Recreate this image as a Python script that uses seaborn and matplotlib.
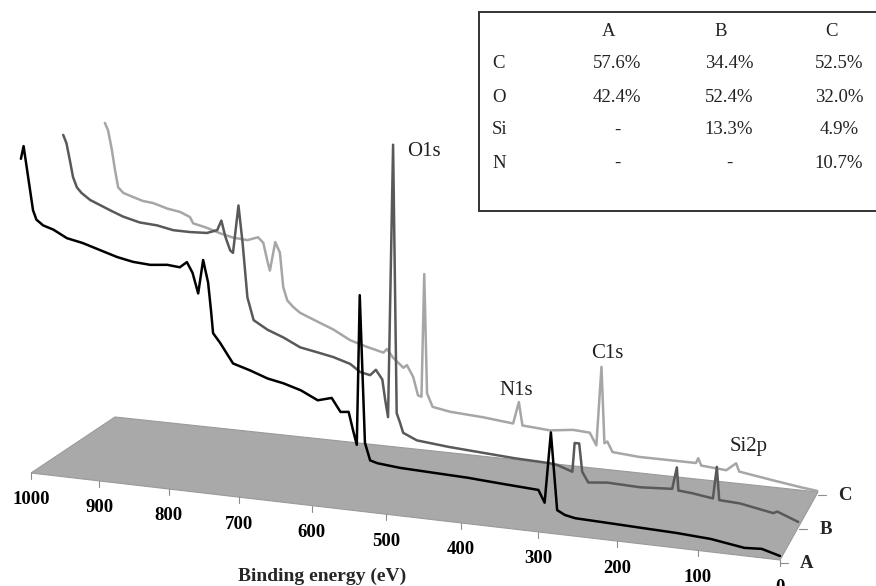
import numpy as np
import pandas as pd
import matplotlib
matplotlib.use("Agg")
import matplotlib.pyplot as plt
from matplotlib.patches import Polygon, Rectangle
import seaborn as sns

# ---------------- data (binding energy in eV, intensity in a.u.) ----------------
A_ev = [1015, 1011, 997, 992, 982, 967, 947, 924, 899, 874, 851, 826, 802, 784, 774, 766, 758, 751, 744, 740,
        737, 727, 709, 685, 661, 639, 615, 592, 573, 561, 550, 544, 539, 535, 528, 521, 511, 481, 437, 392,
        348, 300, 292, 284, 276, 266, 253, 209, 168, 126, 84, 43, 22, 0]
A_int = [313, 326, 263, 254, 249, 246, 239, 236, 231, 226, 223, 222, 224, 223, 229, 219, 199, 233, 211, 184,
         161, 152, 133, 128, 122, 119, 114, 106, 110, 97, 98, 80, 66, 216, 69, 52, 50, 48, 47, 46,
         44, 42, 30, 101, 24, 20, 18, 17, 16, 15, 13, 8, 9, 4]

B_ev = [1015, 1010, 1005, 1000, 994, 987, 974, 959, 944, 924, 899, 873, 849, 824, 799, 784, 778, 772, 765, 761,
        753, 747, 740, 731, 711, 688, 664, 640, 617, 593, 579, 565, 557, 548, 544, 540, 533, 528, 523, 519,
        500, 456, 411, 366, 320, 310, 290, 287, 281, 277, 269, 244, 201, 160, 154, 152, 136, 108, 103, 100,
        74, 32, 27, 1]
B_int = [309, 301, 285, 268, 258, 253, 247, 243, 239, 234, 230, 229, 226, 226, 227, 231, 241, 225, 212, 210,
         258, 221, 167, 145, 137, 131, 123, 120, 117, 112, 105, 103, 109, 100, 80, 63, 336, 68, 58, 49,
         43, 40, 38, 36, 35, 34, 29, 58, 58, 30, 20, 22, 21, 23, 45, 22, 21, 18, 50, 17,
         16, 10, 12, 4]

C_ev = [1016, 1011, 1005, 1000, 995, 987, 972, 956, 940, 918, 898, 883, 878, 857, 837, 817, 795, 779, 771, 764,
        761, 753, 746, 741, 735, 726, 716, 690, 667, 642, 617, 593, 588, 579, 564, 559, 550, 543, 538, 534,
        530, 522, 497, 450, 408, 400, 395, 375, 357, 325, 302, 293, 286, 282, 278, 271, 235, 191, 159, 156,
        152, 119, 106, 102, 59, 23, 1]
C_int = [293, 286, 267, 247, 230, 225, 222, 219, 218, 214, 212, 208, 202, 199, 195, 192, 191, 195, 190, 170,
         163, 192, 182, 148, 135, 129, 124, 117, 111, 102, 97, 93, 97, 89, 80, 83, 72, 54, 53, 176,
         57, 44, 41, 39, 36, 58, 35, 34, 33, 36, 35, 23, 102, 26, 28, 18, 16, 16, 16, 21,
         14, 12, 20, 12, 7, 3, 1]

samples = ["A", "B", "C"]
sample_depth = [0.0, 0.5, 1.0]
energy_ticks = [1000, 900, 800, 700, 600, 500, 400, 300, 200, 100, 0]

table_cols = ["A", "B", "C"]
table_rows = ["C", "O", "Si", "N"]
table_A = ["57.6%", "42.4%", "-", "-"]
table_B = ["34.4%", "52.4%", "13.3%", "-"]
table_C = ["52.5%", "32.0%", "4.9%", "10.7%"]

peak_names = ["O1s", "N1s", "C1s", "Si2p"]
peak_sample = ["B", "C", "C", "C"]
peak_ev = [533, 400, 286, 106]
peak_int = [336, 58, 102, 20]

# ---------------- pseudo-3D projection (layout) ----------------
W, H = 876, 586
FL = np.array([31.0, 473.0])   # front-left  (1000 eV, A)
FR = np.array([780.0, 560.0])  # front-right (0 eV, A)
BL = np.array([115.0, 417.0])  # back-left   (1000 eV, C)
BR = np.array([818.0, 492.0])  # back-right  (0 eV, C)
E_HI, E_LO = 1000.0, 0.0
K = 0.9  # mild perspective along energy axis


def floor_point(ev, depth):
    ev = np.asarray(ev, dtype=float)
    t = (E_HI - ev) / (E_HI - E_LO)
    s = K * t / (1 + t * (K - 1))
    if ev.ndim:
        front = FL[None, :] + s[:, None] * (FR - FL)[None, :]
        back = BL[None, :] + s[:, None] * (BR - BL)[None, :]
    else:
        front = FL + s * (FR - FL)
        back = BL + s * (BR - BL)
    return front + depth * (back - front)


def project(ev, depth, inten):
    p = floor_point(ev, depth)
    inten = np.asarray(inten, dtype=float)
    if p.ndim == 1:
        return p[0], p[1] - inten
    return p[:, 0], p[:, 1] - inten


series_ev = {"A": A_ev, "B": B_ev, "C": C_ev}
series_int = {"A": A_int, "B": B_int, "C": C_int}
depth_of = dict(zip(samples, sample_depth))

frames = []
for smp in samples:
    px, py = project(series_ev[smp], depth_of[smp], series_int[smp])
    frames.append(pd.DataFrame({"px": px, "py": py, "sample": smp}))
df = pd.concat(frames, ignore_index=True)

# ---------------- drawing ----------------
sns.set_theme(style="white")
plt.rcParams["font.family"] = ["Liberation Serif", "DejaVu Serif"]

fig = plt.figure(figsize=(W / 100, H / 100), dpi=100)
ax = fig.add_axes([0, 0, 1, 1])

# floor
corners = [floor_point(E_HI, 0.0), floor_point(E_LO, 0.0), floor_point(E_LO, 1.0), floor_point(E_HI, 1.0)]
ax.add_patch(Polygon(corners, closed=True, facecolor="#a9a9a9", edgecolor="#9a9a9a", lw=0.8, zorder=1))

palette = {"A": "#000000", "B": "#595959", "C": "#a6a6a6"}
sns.lineplot(data=df, x="px", y="py", hue="sample", hue_order=["C", "B", "A"], palette=palette,
             sort=False, estimator=None, units="sample", lw=1.8, legend=False, ax=ax, zorder=3)
ax.set_xlim(0, W)
ax.set_ylim(H, 0)
ax.axis("off")

# energy ticks on front edge
for ev in energy_ticks:
    x0, y0 = floor_point(ev, 0.0)
    ax.plot([x0, x0], [y0, y0 + 6], color="#8c8c8c", lw=0.8, zorder=2)
    ax.text(x0, y0 + 27, str(ev), ha="center", va="center", fontsize=13.5, fontweight="bold", color="black")
ax.text(322, 576, "Binding energy (eV)", ha="center", va="center", fontsize=14, fontweight="bold")

# sample ticks on right edge
for smp, d in zip(samples, sample_depth):
    x0, y0 = floor_point(E_LO, d)
    ax.plot([x0, x0 + 8], [y0 + 3, y0 + 3], color="#8c8c8c", lw=0.8, zorder=2)
    ax.text(x0 + 27, y0 + 3, smp, ha="center", va="center", fontsize=13.5, fontweight="bold")

# peak labels
label_offsets = {"O1s": (14, 7, "left", "center"), "N1s": (-3, -2, "center", "bottom"),
                 "C1s": (6, -4, "center", "bottom"), "Si2p": (-7, -7, "left", "bottom")}
for name, smp, ev, inten in zip(peak_names, peak_sample, peak_ev, peak_int):
    x0, y0 = project(ev, depth_of[smp], inten)
    dx, dy, ha, va = label_offsets[name]
    ax.text(x0 + dx, y0 + dy, name, ha=ha, va=va, fontsize=15, color="#222222")

# composition table
ax.add_patch(Rectangle((479, 12), 420, 199, facecolor="white", edgecolor="#333333", lw=1.4, zorder=4))
col_x = [617, 729, 839]
row_y = [64, 97, 130, 163]
for cx, name in zip(col_x, table_cols):
    ax.text(cx - 8, 31, name, ha="center", va="center", fontsize=13.5, color="#222222", zorder=5)
for ry, rname, va_, vb_, vc_ in zip(row_y, table_rows, table_A, table_B, table_C):
    ax.text(492, ry, rname, ha="left", va="center", fontsize=13.5, color="#222222", zorder=5)
    for cx, val in zip(col_x, [va_, vb_, vc_]):
        ax.text(cx, ry, val, ha="center", va="center", fontsize=13.5, color="#222222", zorder=5)

fig.savefig("out.png", dpi=100)
